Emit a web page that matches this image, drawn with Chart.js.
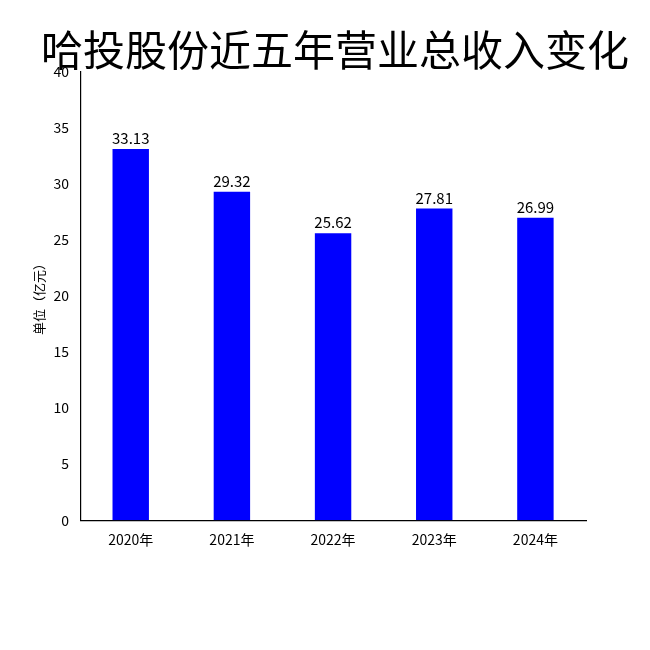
<!DOCTYPE html>
<html>
<head>
<meta charset="utf-8">
<script src="https://cdn.jsdelivr.net/npm/chart.js@4/dist/chart.umd.min.js"></script>
<style>
  body { margin: 0; background: #fff; }
  #wrap { width: 650px; height: 650px; }
</style>
</head>
<body>
<div id="wrap"><canvas id="chart"></canvas></div>
<script>
const years = ['2020年', '2021年', '2022年', '2023年', '2024年'];
const revenue = [33.13, 29.32, 25.62, 27.81, 26.99];
const titleText = '哈投股份近五年营业总收入变化';
const yLabel = '单位（亿元）';

const font = "'Noto Sans CJK SC', 'DejaVu Sans', sans-serif";

// values above bars and the title, centred over the plot
const extras = {
  id: 'extras',
  afterDatasetsDraw(chart) {
    const ctx = chart.ctx;
    const meta = chart.getDatasetMeta(0);
    ctx.save();
    ctx.fillStyle = '#000';
    ctx.font = "15px " + font;
    ctx.textAlign = 'center';
    ctx.textBaseline = 'bottom';
    meta.data.forEach((bar, i) => {
      ctx.fillText(revenue[i].toFixed(2), bar.x, bar.y - 3);
    });
    const area = chart.chartArea;
    ctx.font = "42px " + font;
    ctx.textBaseline = 'middle';
    ctx.fillText(titleText, (area.left + area.right) / 2 + 2, 50);
    ctx.restore();
  },
};

new Chart(document.getElementById('chart'), {
  type: 'bar',
  data: {
    labels: years,
    datasets: [{
      data: revenue,
      backgroundColor: '#0000ff',
      barPercentage: 0.36,
      categoryPercentage: 1,
    }],
  },
  options: {
    responsive: true,
    maintainAspectRatio: false,
    animation: false,
    layout: { padding: { left: 27, right: 64, top: 72, bottom: 99 } },
    plugins: {
      legend: { display: false },
      tooltip: { enabled: false },
    },
    scales: {
      x: {
        grid: { display: false },
        border: { color: '#000', width: 1.2 },
        ticks: { color: '#000', font: { family: font, size: 14 } },
      },
      y: {
        min: 0,
        max: 40,
        grid: { display: false },
        border: { color: '#000', width: 1.2 },
        ticks: { stepSize: 5, color: '#000', font: { family: font, size: 14 } },
        title: {
          display: true,
          text: yLabel,
          color: '#000',
          font: { family: font, size: 13 },
        },
      },
    },
  },
  plugins: [extras],
});
</script>
</body>
</html>
